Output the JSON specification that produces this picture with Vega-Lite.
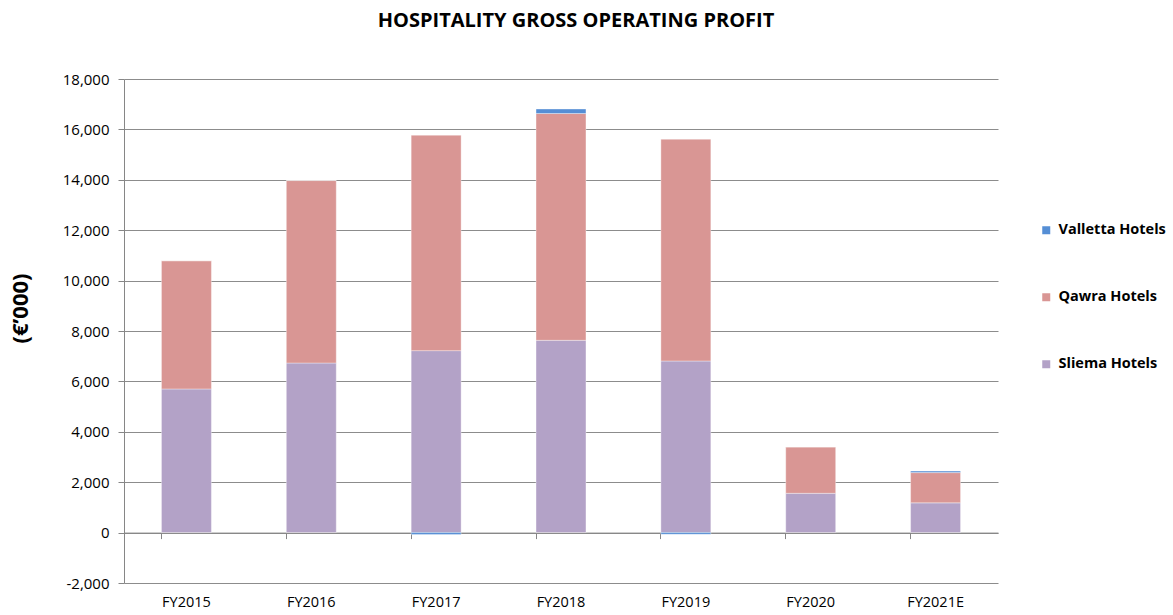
{
  "$schema": "https://vega.github.io/schema/vega-lite/v6.json",
  "width": 874,
  "height": 504,
  "autosize": {"type": "none"},
  "padding": {"left": 124, "top": 79, "right": 175, "bottom": 32},
  "background": "white",
  "config": {"view": {"stroke": null}, "font": "Open Sans"},
  "title": {"text": "HOSPITALITY GROSS OPERATING PROFIT", "fontSize": 20, "fontWeight": "bold", "font": "Open Sans", "color": "#000000", "offset": 41, "dx": 15},
  "data": {"values": [
    {"year": "FY2015", "hotel": "Sliema Hotels", "value": 5700},
    {"year": "FY2015", "hotel": "Qawra Hotels", "value": 5090},
    {"year": "FY2015", "hotel": "Valletta Hotels", "value": 0},
    {"year": "FY2016", "hotel": "Sliema Hotels", "value": 6730},
    {"year": "FY2016", "hotel": "Qawra Hotels", "value": 7240},
    {"year": "FY2016", "hotel": "Valletta Hotels", "value": 0},
    {"year": "FY2017", "hotel": "Sliema Hotels", "value": 7220},
    {"year": "FY2017", "hotel": "Qawra Hotels", "value": 8550},
    {"year": "FY2017", "hotel": "Valletta Hotels", "value": -80},
    {"year": "FY2018", "hotel": "Sliema Hotels", "value": 7630},
    {"year": "FY2018", "hotel": "Qawra Hotels", "value": 9000},
    {"year": "FY2018", "hotel": "Valletta Hotels", "value": 180},
    {"year": "FY2019", "hotel": "Sliema Hotels", "value": 6810},
    {"year": "FY2019", "hotel": "Qawra Hotels", "value": 8800},
    {"year": "FY2019", "hotel": "Valletta Hotels", "value": -70},
    {"year": "FY2020", "hotel": "Sliema Hotels", "value": 1560},
    {"year": "FY2020", "hotel": "Qawra Hotels", "value": 1840},
    {"year": "FY2020", "hotel": "Valletta Hotels", "value": 0},
    {"year": "FY2021E", "hotel": "Sliema Hotels", "value": 1180},
    {"year": "FY2021E", "hotel": "Qawra Hotels", "value": 1200},
    {"year": "FY2021E", "hotel": "Valletta Hotels", "value": 60}
  ]},
  "transform": [
    {"calculate": "datum.hotel === 'Sliema Hotels' ? 0 : (datum.hotel === 'Qawra Hotels' ? 1 : 2)", "as": "ord"}
  ],
  "layer": [
    {
      "mark": {"type": "bar", "stroke": "#ffffff", "strokeWidth": 0.6, "strokeOpacity": 0.6},
      "encoding": {
        "x": {"field": "year", "type": "nominal", "sort": null,
              "scale": {"paddingInner": 0.6, "paddingOuter": 0.3},
              "axis": {"orient": "bottom", "title": null, "labelFontSize": 14.5, "labelColor": "#000000", "labelFont": "Open Sans", "labelPadding": 12, "ticks": false, "domain": false, "labelAngle": 0}},
        "y": {"field": "value", "type": "quantitative", "stack": "zero",
              "scale": {"domain": [-2000, 18000], "nice": false},
              "axis": {"title": "(€’000)", "titleFontSize": 22, "titleFontWeight": "bold", "titleFont": "Open Sans", "titleColor": "#000000",
                       "titleX": -104, "titleY": 229, "titleAngle": -90, "titleAlign": "center", "titleBaseline": "middle",
                       "values": [-2000, 0, 2000, 4000, 6000, 8000, 10000, 12000, 14000, 16000, 18000],
                       "format": ",d", "labelExpr": "replace(datum.label, '\u2212', '-')",
                       "labelFontSize": 15, "labelColor": "#000000", "labelFont": "Open Sans", "labelPadding": 9, "tickSize": 6,
                       "tickColor": "#868686", "domainColor": "#868686", "gridColor": "#8c8c8c", "grid": true, "gridWidth": 1}},
        "color": {"field": "hotel", "type": "nominal",
                  "scale": {"domain": ["Valletta Hotels", "Qawra Hotels", "Sliema Hotels"], "range": ["#558ED5", "#D99694", "#B3A2C7"]},
                  "legend": {"title": null, "orient": "none", "legendX": 915, "legendY": 144, "symbolType": "square", "symbolSize": 64, "symbolStrokeWidth": 0,
                             "labelFontSize": 14.5, "labelFontWeight": "bold", "labelFont": "Open Sans", "labelColor": "#000000", "rowPadding": 52, "labelOffset": 5, "padding": 0}},
        "order": {"field": "ord", "type": "quantitative"}
      }
    },
    {
      "mark": {"type": "rule", "opacity": 0},
      "encoding": {
        "x": {"field": "year", "type": "nominal", "sort": null,
              "axis": {"orient": "bottom", "offset": -50.4, "title": null, "labels": false, "ticks": true, "tickSize": 6, "tickColor": "#868686", "domainColor": "#868686", "bandPosition": 0, "grid": false}}
      }
    }
  ],
  "resolve": {"axis": {"x": "independent"}}
}
